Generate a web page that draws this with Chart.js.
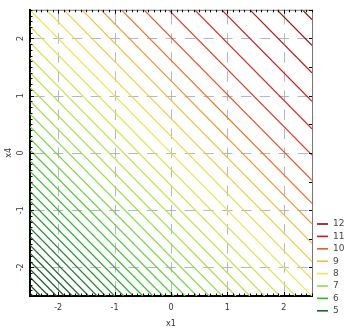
<!DOCTYPE html>
<html><head><meta charset="utf-8">
<script src="https://cdn.jsdelivr.net/npm/chart.js@4/dist/chart.umd.min.js"></script>
<style>html,body{margin:0;padding:0;background:#fff;}#wrap{width:354px;height:336px;position:relative;}</style>
</head><body><div id="wrap"><canvas id="c"></canvas></div>
<script>
// value of x1 + x4 along each contour line (top-right to bottom-left)
const contourOffsets = [4.83, 4.38, 3.90, 3.40, 2.92, 2.46, 2.02, 1.62, 1.26, 0.92, 0.60, 0.29, 0.00,
  -0.29, -0.57, -0.84, -1.10, -1.35, -1.59, -1.82, -2.04, -2.25, -2.45, -2.64, -2.82, -3.00, -3.17,
  -3.34, -3.50, -3.66, -3.81, -3.96, -4.11, -4.25, -4.39, -4.53, -4.67, -4.81, -4.95];
// contour level of each line
const contourLevels = [12.3, 11.9, 11.5, 11.1, 10.8, 10.5, 10.15, 9.8, 9.4, 9.0, 8.65, 8.3, 8.0,
  7.85, 7.7, 7.55, 7.4, 7.25, 7.1, 6.95, 6.8, 6.65, 6.5, 6.35, 6.2, 6.05, 5.9,
  5.75, 5.6, 5.45, 5.3, 5.15, 5.0, 4.85, 4.75, 4.65, 4.55, 4.45, 4.35];
const legendLabels = ['12', '11', '10', '9', '8', '7', '6', '5'];
const legendLevels = [12, 11, 10, 9, 8, 7, 6, 5];
const xTicks = [-2, -1, 0, 1, 2];
const yTicks = [-2, -1, 0, 1, 2];
const XMIN = -2.5, XMAX = 2.5, YMIN = -2.5, YMAX = 2.5;

const cmap = [[4, [10, 50, 18]], [5, [22, 100, 40]], [6, [40, 180, 45]], [7, [140, 225, 75]],
  [8, [232, 232, 80]], [9, [242, 190, 60]], [10, [236, 90, 30]], [11, [214, 22, 22]], [12, [145, 10, 10]], [13, [90, 5, 5]]];
function levelColor(v) {
  for (let i = 0; i < cmap.length - 1; i++) {
    const [a, ca] = cmap[i], [b, cb] = cmap[i + 1];
    if (v <= b || i === cmap.length - 2) {
      const t = Math.max(0, Math.min(1, (v - a) / (b - a)));
      const c = ca.map((x, k) => Math.round(x + (cb[k] - x) * t));
      return `rgb(${c[0]},${c[1]},${c[2]})`;
    }
  }
}

const datasets = contourOffsets.map((s, i) => {
  const pts = s <= 0
    ? [{x: XMIN, y: s - XMIN}, {x: s - YMIN, y: YMIN}]
    : [{x: s - YMAX, y: YMAX}, {x: XMAX, y: s - XMAX}];
  return {data: pts, showLine: true, pointRadius: 0, borderWidth: 1.2,
    borderColor: levelColor(contourLevels[i]), fill: false};
});

const FONT = {family: 'DejaVu Sans', size: 8};
const decor = {
  id: 'decor',
  beforeDatasetsDraw(chart) {
    const {ctx, chartArea: a, scales: {x, y}} = chart;
    ctx.save();
    ctx.strokeStyle = 'rgba(160,165,185,0.8)';
    ctx.lineWidth = 1;
    const px = x.getPixelForValue(1) - x.getPixelForValue(0);
    const py = y.getPixelForValue(0) - y.getPixelForValue(1);
    let P = py / 3;
    ctx.setLineDash([P * 0.55, P * 0.45]);
    let start = y.getPixelForValue(2) - P * 0.275 - a.top;
    ctx.lineDashOffset = ((-start) % P + P) % P;
    xTicks.forEach(v => {
      const X = Math.round(x.getPixelForValue(v)) + 0.5;
      ctx.beginPath(); ctx.moveTo(X, a.top); ctx.lineTo(X, a.bottom); ctx.stroke();
    });
    P = px / 3;
    ctx.setLineDash([P * 0.55, P * 0.45]);
    start = x.getPixelForValue(-2) - P * 0.275 - a.left;
    ctx.lineDashOffset = ((-start) % P + P) % P;
    yTicks.forEach(v => {
      const Y = Math.round(y.getPixelForValue(v)) + 0.5;
      ctx.beginPath(); ctx.moveTo(a.left, Y); ctx.lineTo(a.right, Y); ctx.stroke();
    });
    ctx.restore();
  },
  afterDraw(chart) {
    const {ctx, chartArea: a, scales: {x, y}} = chart;
    ctx.save();
    ctx.setLineDash([]);
    ctx.strokeStyle = '#777'; ctx.lineWidth = 1;
    ctx.beginPath(); ctx.moveTo(a.left, a.top + 0.5); ctx.lineTo(a.right + 0.5, a.top + 0.5);
    ctx.lineTo(a.right + 0.5, a.bottom); ctx.stroke();
    ctx.strokeStyle = '#000';
    for (let k = -25; k <= 25; k++) {
      const v = k / 10, major = k % 10 === 0, L = major ? 4 : 2.5;
      const X = Math.round(x.getPixelForValue(v)) + 0.5;
      const Y = Math.round(y.getPixelForValue(v)) + 0.5;
      ctx.beginPath();
      ctx.moveTo(X, a.bottom); ctx.lineTo(X, a.bottom - L);
      ctx.moveTo(X, a.top); ctx.lineTo(X, a.top + L);
      ctx.moveTo(a.left, Y); ctx.lineTo(a.left + L, Y);
      if (k % 5 === 0) { ctx.moveTo(a.right, Y); ctx.lineTo(a.right - 3, Y); }
      ctx.stroke();
    }
    ctx.font = '9px "DejaVu Sans"';
    ctx.textBaseline = 'middle';
    ctx.textAlign = 'left';
    legendLabels.forEach((lab, i) => {
      const Y = 224 + i * 12.4;
      ctx.strokeStyle = levelColor(legendLevels[i]);
      ctx.lineWidth = 1.6;
      ctx.beginPath(); ctx.moveTo(317, Y); ctx.lineTo(328, Y); ctx.stroke();
      ctx.fillStyle = '#444';
      ctx.fillText(lab, 333, Y);
    });
    ctx.restore();
  }
};

const setTicks = vals => s => { s.ticks = vals.map(v => ({value: v})); };

new Chart(document.getElementById('c'), {
  type: 'scatter',
  data: {datasets},
  plugins: [decor],
  options: {
    responsive: true, maintainAspectRatio: false, animation: false,
    layout: {padding: {top: 9, right: 42, left: 0, bottom: 0}},
    plugins: {legend: {display: false}, tooltip: {enabled: false}},
    scales: {
      x: {type: 'linear', min: XMIN, max: XMAX, afterBuildTicks: setTicks(xTicks),
        afterFit: s => { s.height = 40; },
        ticks: {color: '#333', font: FONT, padding: 7},
        grid: {color: 'rgba(0,0,0,0)', drawTicks: false},
        border: {display: true, color: '#000', width: 2},
        title: {display: true, text: 'x1', color: '#333', font: FONT, padding: {top: 0, bottom: 7}}},
      y: {type: 'linear', min: YMIN, max: YMAX, afterBuildTicks: setTicks(yTicks),
        afterFit: s => { s.width = 30; },
        ticks: {color: '#333', font: FONT, padding: 5, minRotation: 90, maxRotation: 90, crossAlign: 'center'},
        grid: {color: 'rgba(0,0,0,0)', drawTicks: false},
        border: {display: true, color: '#000', width: 2},
        title: {display: true, text: 'x4', color: '#333', font: FONT, padding: {top: 4, bottom: 0}}}
    }
  }
});
</script></body></html>
